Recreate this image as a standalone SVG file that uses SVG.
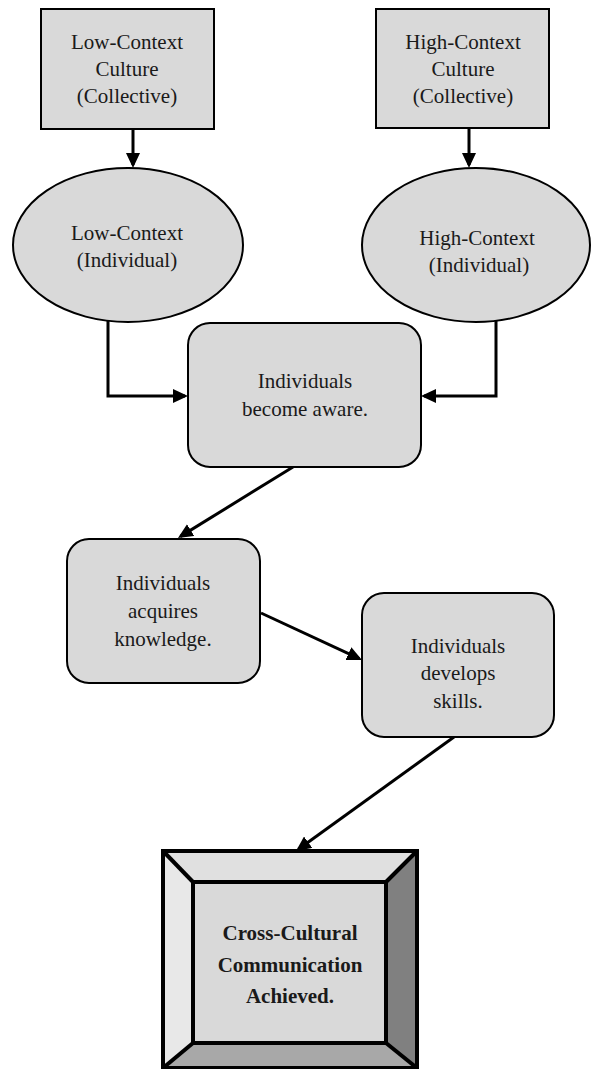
<svg xmlns="http://www.w3.org/2000/svg" width="592" height="1069" viewBox="0 0 592 1069">
<style>
.node{fill:#d9d9d9;stroke:#000;stroke-width:2}
.t{font-family:"Liberation Serif","Times New Roman",serif;font-size:21px;fill:#1a1a1a;text-anchor:middle}
.b{font-weight:bold}
.c{fill:none;stroke:#000;stroke-width:3}
</style>
<defs>
<marker id="ah" viewBox="0 0 15 14" refX="12" refY="7" markerWidth="15" markerHeight="14" markerUnits="userSpaceOnUse" orient="auto">
<path d="M0,0 L15,7 L0,14 z" fill="#000"/>
</marker>
</defs>
<rect width="592" height="1069" fill="#fff"/>
<g id="connectors">
<line class="c" x1="133" y1="129" x2="133" y2="165" marker-end="url(#ah)"/>
<line class="c" x1="469" y1="128" x2="469" y2="165" marker-end="url(#ah)"/>
<path class="c" d="M108,320 V396 H185" marker-end="url(#ah)"/>
<path class="c" d="M496,320 V396 H424" marker-end="url(#ah)"/>
<line class="c" x1="293" y1="467" x2="180.5" y2="536.4" marker-end="url(#ah)"/>
<line class="c" x1="261" y1="613" x2="359.3" y2="658.7" marker-end="url(#ah)"/>
<line class="c" x1="454" y1="737" x2="298.4" y2="849.2" marker-end="url(#ah)"/>
</g>
<g id="low-culture">
<rect class="node" x="41" y="9" width="173" height="120"/>
<text class="t" x="127" y="49">Low-Context</text>
<text class="t" x="127" y="76">Culture</text>
<text class="t" x="127" y="103">(Collective)</text>
</g>
<g id="high-culture">
<rect class="node" x="376" y="9" width="173" height="119"/>
<text class="t" x="463" y="49">High-Context</text>
<text class="t" x="463" y="76">Culture</text>
<text class="t" x="463" y="103">(Collective)</text>
</g>
<g id="low-individual">
<ellipse class="node" cx="128" cy="245" rx="115" ry="77"/>
<text class="t" x="127" y="240">Low-Context</text>
<text class="t" x="127" y="267">(Individual)</text>
</g>
<g id="high-individual">
<ellipse class="node" cx="476" cy="245" rx="114" ry="77"/>
<text class="t" x="477" y="245">High-Context</text>
<text class="t" x="479" y="272">(Individual)</text>
</g>
<g id="aware">
<rect class="node" x="188" y="323" width="233" height="144" rx="22" ry="22"/>
<text class="t" x="305" y="388">Individuals</text>
<text class="t" x="305" y="416">become aware.</text>
</g>
<g id="knowledge">
<rect class="node" x="67" y="539" width="193" height="144" rx="22" ry="22"/>
<text class="t" x="163" y="590">Individuals</text>
<text class="t" x="163" y="618">acquires</text>
<text class="t" x="163" y="646">knowledge.</text>
</g>
<g id="skills">
<rect class="node" x="362" y="593" width="192" height="144" rx="22" ry="22"/>
<text class="t" x="458" y="653">Individuals</text>
<text class="t" x="458" y="680">develops</text>
<text class="t" x="458" y="708">skills.</text>
</g>
<g id="achieved">
<polygon points="163,851 417,851 386,882 193,882" fill="#e0e0e0"/>
<polygon points="163,851 193,882 193,1043 163,1068" fill="#e8e8e8"/>
<polygon points="417,851 417,1068 386,1043 386,882" fill="#808080"/>
<polygon points="163,1068 193,1043 386,1043 417,1068" fill="#a8a8a8"/>
<rect x="193" y="882" width="193" height="161" fill="#d9d9d9" stroke="#000" stroke-width="4"/>
<g stroke="#000" stroke-width="4">
<line x1="163" y1="851" x2="193" y2="882"/>
<line x1="417" y1="851" x2="386" y2="882"/>
<line x1="163" y1="1068" x2="193" y2="1043"/>
<line x1="417" y1="1068" x2="386" y2="1043"/>
</g>
<rect x="163" y="851" width="254" height="217" fill="none" stroke="#000" stroke-width="4"/>
<text class="t b" x="290" y="940">Cross-Cultural</text>
<text class="t b" x="290" y="972">Communication</text>
<text class="t b" x="290" y="1003">Achieved.</text>
</g>
</svg>
